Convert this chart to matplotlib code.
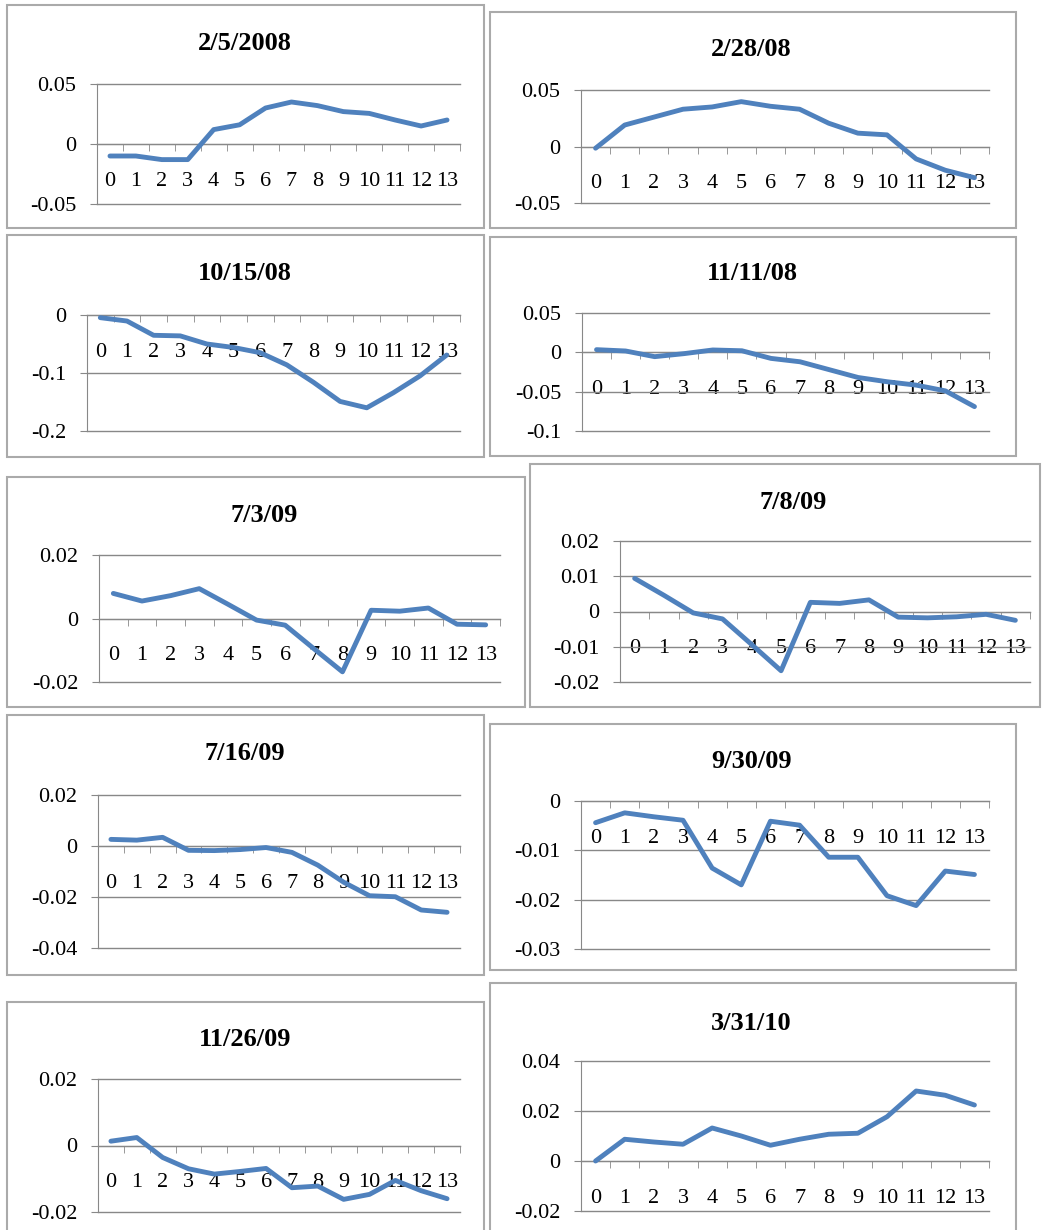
import matplotlib.pyplot as plt
from matplotlib.patches import Rectangle
from matplotlib.ticker import FuncFormatter
import numpy as np

W, H = 1042, 1230
plt.rcParams['font.family'] = ['Liberation Serif', 'DejaVu Serif']

# event day offsets
days = list(range(14))

# cumulative abnormal returns per event date
car_2008_02_05 = [-0.010, -0.010, -0.013, -0.013, 0.012, 0.016, 0.030, 0.035, 0.032, 0.027, 0.0255, 0.020, 0.015, 0.020]
car_2008_02_28 = [-0.0015, 0.019, 0.026, 0.033, 0.035, 0.0397, 0.0356, 0.033, 0.0206, 0.0118, 0.0103, -0.011, -0.021, -0.0276]
car_2008_10_15 = [-0.0046, -0.0104, -0.035, -0.036, -0.050, -0.056, -0.065, -0.086, -0.116, -0.149, -0.160, -0.134, -0.105, -0.069]
car_2008_11_11 = [0.0034, 0.0017, -0.0055, -0.0017, 0.003, 0.002, -0.0077, -0.012, -0.022, -0.032, -0.0374, -0.0417, -0.049, -0.069]
car_2009_07_03 = [0.0079, 0.0055, 0.0072, 0.0094, 0.0045, -0.0005, -0.0021, -0.0095, -0.0168, 0.0026, 0.0023, 0.0033, -0.0018, -0.002]
car_2009_07_08 = [0.0094, 0.0046, -0.0004, -0.0021, -0.0094, -0.0168, 0.0026, 0.0023, 0.0033, -0.0016, -0.0018, -0.0015, -0.0008, -0.0025]
car_2009_07_16 = [0.0026, 0.0023, 0.0034, -0.0017, -0.0018, -0.0014, -0.0006, -0.0025, -0.0075, -0.0142, -0.0195, -0.0199, -0.0251, -0.026]
car_2009_09_30 = [-0.0044, -0.0024, -0.0032, -0.0039, -0.0136, -0.017, -0.0041, -0.0049, -0.0114, -0.0114, -0.0192, -0.0212, -0.0142, -0.0149]
car_2009_11_26 = [0.0013, 0.0024, -0.0036, -0.007, -0.0086, -0.0078, -0.0069, -0.0127, -0.0122, -0.0162, -0.0147, -0.0105, -0.0136, -0.016]
car_2010_03_31 = [0.0, 0.0087, 0.0076, 0.0067, 0.0132, 0.010, 0.0063, 0.0087, 0.0107, 0.0111, 0.0177, 0.028, 0.0263, 0.0224]

titles = ["2/5/2008", "2/28/08", "10/15/08", "11/11/08", "7/3/09",
          "7/8/09", "7/16/09", "9/30/09", "11/26/09", "3/31/10"]
series = [car_2008_02_05, car_2008_02_28, car_2008_10_15, car_2008_11_11, car_2009_07_03,
          car_2009_07_08, car_2009_07_16, car_2009_09_30, car_2009_11_26, car_2010_03_31]

# y range and tick step of each chart
y_ranges = [(-0.05, 0.05, 0.05), (-0.05, 0.05, 0.05), (-0.2, 0.0, 0.1), (-0.1, 0.05, 0.05),
            (-0.02, 0.02, 0.02), (-0.02, 0.02, 0.01), (-0.04, 0.02, 0.02), (-0.03, 0.0, 0.01),
            (-0.02, 0.02, 0.02), (-0.02, 0.04, 0.02)]

# layout in pixels: frame (x0, y0, x1, y1), plot area (x0, y0, x1, y1), title centre
frames = [(7, 5, 484, 228), (490, 12, 1016, 228), (7, 235, 484, 457), (490, 237, 1016, 456),
          (7, 477, 525, 707), (530, 464, 1040, 707), (7, 715, 484, 975), (490, 724, 1016, 970),
          (7, 1002, 484, 1240), (490, 983, 1016, 1240)]
plot_areas = [(97, 84, 460, 204), (581, 90, 989, 203), (87, 315, 460, 431), (582, 313, 989, 431),
              (99, 555, 500, 682), (620, 541, 1030, 682), (98, 795, 460, 948), (581, 801, 989, 949),
              (98, 1079, 460, 1212), (581, 1061, 989, 1211)]
title_pos = [(245, 43), (751, 49), (245, 273), (752, 273), (264, 515),
             (793, 502), (245, 753), (752, 762), (245, 1040), (751, 1023)]

GRID = '#888888'
LINE = '#4F81BD'


def fig_rect(x0, y0, x1, y1):
    return [x0 / W, 1 - y1 / H, (x1 - x0) / W, (y1 - y0) / H]


def fmt(v, pos):
    s = f"{v:.2f}".rstrip('0').rstrip('.')
    return '0' if s in ('-0', '') else s


fig = plt.figure(figsize=(W / 100, H / 100), dpi=100)

for i in range(len(titles)):
    fx0, fy0, fx1, fy1 = frames[i]
    fig.add_artist(Rectangle((fx0 / W, 1 - fy1 / H), (fx1 - fx0) / W, (fy1 - fy0) / H,
                             transform=fig.transFigure, fill=False,
                             edgecolor='#AAAAAA', lw=1.5))

    ax = fig.add_axes(fig_rect(*plot_areas[i]))
    ax.plot(days, series[i], color=LINE, lw=3.5, solid_joinstyle='round',
            solid_capstyle='round', zorder=3, clip_on=False)

    lo, hi, step = y_ranges[i]
    ax.set_xlim(-0.5, 13.5)
    ax.set_ylim(lo, hi)
    ax.set_yticks(np.linspace(lo, hi, int(round((hi - lo) / step)) + 1))
    ax.yaxis.set_major_formatter(FuncFormatter(fmt))
    ax.grid(axis='y', color=GRID, lw=1.0)
    ax.set_axisbelow(True)
    for gl in ax.get_ygridlines():
        gl.set_clip_on(False)

    for side in ('top', 'right'):
        ax.spines[side].set_visible(False)
    ax.spines['left'].set_color(GRID)
    ax.spines['bottom'].set_color(GRID)
    ax.spines['bottom'].set_position(('data', 0))

    # category labels sit under the zero line, tick marks between categories
    ax.set_xticks(days)
    ax.set_xticklabels([str(d) for d in days])
    ax.set_xticks(np.arange(-0.5, 14, 1), minor=True)
    ax.tick_params(axis='x', which='major', length=0, pad=20, labelsize=16)
    ax.tick_params(axis='x', which='minor', length=5, direction='out', color=GRID)
    ax.tick_params(axis='y', length=5, direction='out', color=GRID, labelsize=16, pad=10)
    ax.patch.set_alpha(0)

    tx, ty = title_pos[i]
    fig.text(tx / W, 1 - ty / H, titles[i], ha='center', va='center',
             fontsize=19, fontweight='bold')

fig.savefig('out.png', dpi=100, facecolor='white')
